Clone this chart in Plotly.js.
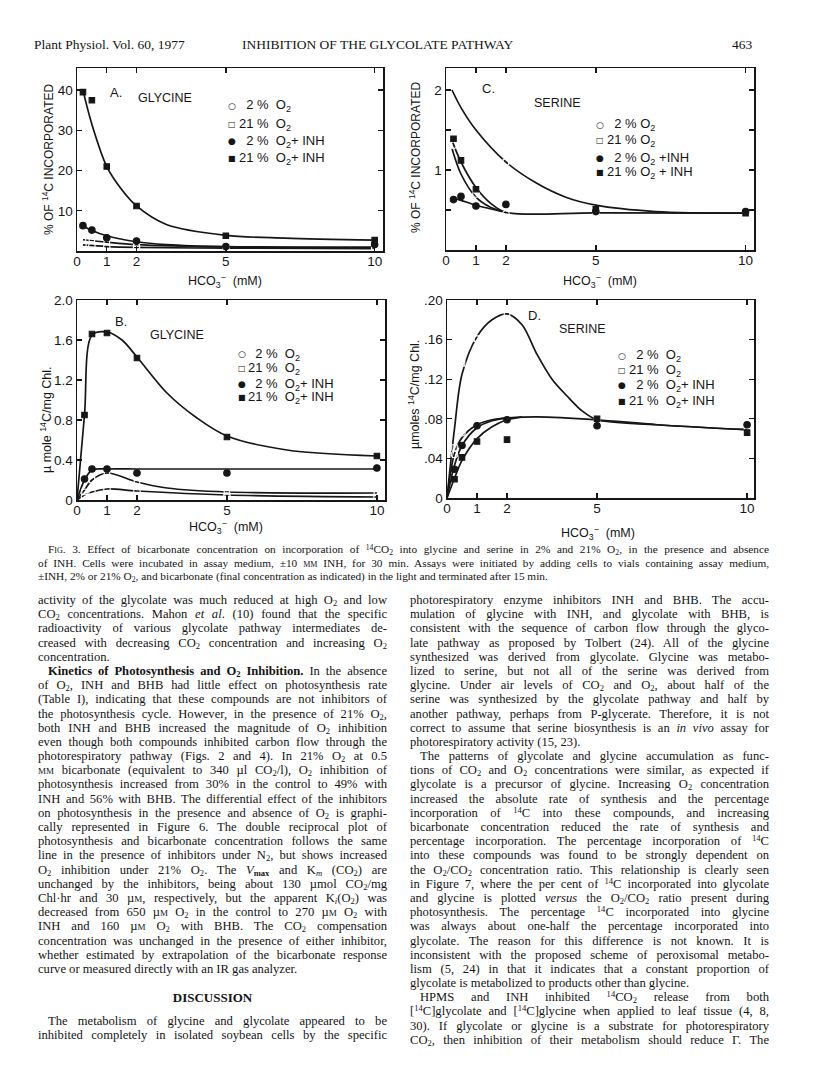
<!DOCTYPE html>
<html><head><meta charset="utf-8">
<script src="https://cdn.plot.ly/plotly-3.0.1.min.js"></script>
<style>
body{margin:0;background:#fff;}
#page{position:relative;width:816px;height:1088px;overflow:hidden;background:#fff;}
#plot{position:absolute;left:0;top:0;width:816px;height:1088px;}
.txt{position:absolute;font-family:'Liberation Serif','Times New Roman',serif;color:#141414;}
.col{font-size:12.6px;}
.ln{height:14.2px;line-height:14.2px;text-align:justify;text-align-last:justify;white-space:nowrap;}
.ln.last{text-align-last:left;}
.ln.ind{text-indent:10px;}
.cap{font-size:11.3px;}
.cap .ln{height:13.5px;line-height:13.5px;}
sub{font-size:0.68em;vertical-align:-0.28em;line-height:0;}
sup{font-size:0.68em;vertical-align:0.45em;line-height:0;}
.sc{font-variant:small-caps;}
</style>
</head><body>
<div id="page">
<div id="plot"></div>
<div class="txt" style="left:34px;top:37px;font-size:13.5px;">Plant Physiol. Vol. 60, 1977</div>
<div class="txt" style="left:242px;top:37px;font-size:13.5px;">INHIBITION OF THE GLYCOLATE PATHWAY</div>
<div class="txt" style="left:732px;top:37px;font-size:13.5px;">463</div>
<div class="txt cap" id="caption" style="left:38px;top:543px;width:731px;"></div>
<div class="txt col" id="left" style="left:38px;top:593px;width:349px;"></div>
<div class="txt col" id="right" style="left:410px;top:593px;width:359px;"></div>
<div class="txt" style="left:38px;top:990px;width:349px;text-align:center;font-weight:bold;font-size:13px;">DISCUSSION</div>
<div class="txt col" id="left2" style="left:38px;top:1014px;width:349px;"></div>
</div>
<script>
// ---------------- DATA ----------------
// Panel A: glycine, % of 14C incorporated
const A_x = [0.2, 0.5, 1, 2, 5, 10];
const A_o2_2 = [1.5, 1.2, 0.9, 1.1, 0.7, 0.7];
const A_o2_21 = [2.6, 3.0, 2.3, 1.8, 0.9, 1.0];
const A_o2_2_inh = [6.3, 5.2, 3.3, 2.5, 1.1, 1.6];
const A_o2_21_inh = [39.5, 37.5, 21.0, 11.2, 3.8, 2.7];
const A_curve21i_x = [0.2, 0.5, 1, 1.5, 2, 3, 5, 7, 10];
const A_curve21i_y = [40, 31.5, 21, 15.3, 11.2, 6.6, 3.9, 3.2, 2.7];
const A_curve2i_x = [0.2, 0.5, 1, 2, 3, 5, 10];
const A_curve2i_y = [6.3, 5.1, 3.8, 2.3, 1.6, 1.1, 1.0];
const A_curve21_x = [0.2, 1, 2, 5, 10];
const A_curve21_y = [2.8, 2.2, 1.6, 1.0, 0.8];
const A_curve2_x = [0.2, 1, 2, 5, 10];
const A_curve2_y = [1.5, 1.1, 0.9, 0.7, 0.6];

// Panel C: serine, % of 14C incorporated
const C_x = [0.25, 0.5, 1, 2, 5, 10];
const C_o2_2 = [1.31, 0.81, 0.70, 0.45, 0.45, 0.35];
const C_o2_21 = [1.61, 2.02, 1.30, 1.10, 0.375, 0.425];
const C_o2_2_inh = [0.63, 0.67, 0.55, 0.57, 0.48, 0.48];
const C_o2_21_inh = [1.39, 1.12, 0.76, null, 0.51, 0.46];
const C_curve21_x = [0.2, 0.5, 1, 2, 3, 4, 5, 7, 10];
const C_curve21_y = [2.0, 1.78, 1.5, 1.1, 0.84, 0.66, 0.56, 0.48, 0.46];
const C_curve21i_x = [0.2, 0.5, 1, 1.5, 2, 5, 10];
const C_curve21i_y = [1.37, 1.1, 0.78, 0.58, 0.47, 0.465, 0.46];
const C_curve2_x = [0.2, 0.5, 1, 1.5, 2];
const C_curve2_y = [1.27, 0.95, 0.66, 0.53, 0.47];
const C_curve2i_x = [0.2, 0.5, 1, 2];
const C_curve2i_y = [0.65, 0.62, 0.56, 0.47];

// Panel B: glycine, umole 14C / mg Chl
const B_x = [0.25, 0.5, 1, 2, 5, 10];
const B_o2_2 = [0.03, 0.08, 0.11, 0.09, 0.04, 0.02];
const B_o2_21 = [0.08, 0.20, 0.27, 0.17, 0.08, 0.08];
const B_o2_2_inh = [0.21, 0.31, 0.31, 0.27, 0.27, 0.32];
const B_o2_21_inh = [0.85, 1.66, 1.67, 1.42, 0.63, 0.44];
const B_curve21i_x = [0, 0.25, 0.5, 1, 1.5, 2, 3, 4, 5, 7, 10];
const B_curve21i_y = [0, 0.85, 1.65, 1.68, 1.6, 1.43, 1.07, 0.82, 0.64, 0.5, 0.44];
const B_curve2i_x = [0, 0.25, 0.5, 1, 2, 5, 10];
const B_curve2i_y = [0, 0.2, 0.3, 0.31, 0.31, 0.31, 0.31];
const B_curve21_x = [0, 0.25, 0.5, 1, 2, 3, 5, 10];
const B_curve21_y = [0, 0.1, 0.2, 0.27, 0.18, 0.12, 0.08, 0.07];
const B_curve2_x = [0, 0.25, 0.5, 1, 2, 5, 10];
const B_curve2_y = [0, 0.05, 0.08, 0.11, 0.09, 0.05, 0.03];

// Panel D: serine, umoles 14C / mg Chl
const D_x = [0.25, 0.5, 1, 2, 5, 10];
const D_o2_2 = [0.044, 0.066, 0.090, 0.085, 0.089, 0.090];
const D_o2_21 = [0.051, 0.136, 0.161, 0.186, 0.078, 0.068];
const D_o2_2_inh = [0.029, 0.053, 0.073, 0.079, 0.073, 0.074];
const D_o2_21_inh = [0.019, 0.041, 0.057, 0.059, 0.080, 0.066];
const D_curve21_x = [0, 0.25, 0.5, 1, 1.5, 2, 2.5, 3, 3.5, 4, 4.5, 5, 7, 10];
const D_curve21_y = [0, 0.07, 0.125, 0.163, 0.18, 0.186, 0.175, 0.145, 0.12, 0.103, 0.088, 0.079, 0.074, 0.069];
const D_curveTail_x = [2, 3, 5, 7, 10];
const D_curveTail_y = [0.081, 0.082, 0.079, 0.074, 0.069];
const D_curve2_x = [0, 0.25, 0.5, 1, 1.5, 2];
const D_curve2_y = [0, 0.045, 0.061, 0.074, 0.079, 0.081];
const D_curve2i_x = [0, 0.25, 0.5, 1, 1.5, 2];
const D_curve2i_y = [0, 0.033, 0.053, 0.071, 0.078, 0.081];
const D_curve21i_x = [0, 0.25, 0.5, 1, 1.5, 2, 2.5];
const D_curve21i_y = [0, 0.02, 0.038, 0.06, 0.072, 0.079, 0.082];

// tick labels
const xTicks = [0, 1, 2, 5, 10];
const xTickText = ['0', '1', '2', '5', '10'];
const A_yTicks = [10, 20, 30, 40];
const A_yTickText = ['10', '20', '30', '40'];
const C_yTicks = [0.5, 1, 1.5, 2];
const C_yTickText = ['', '1', '', '2'];
const B_yTicks = [0, 0.4, 0.8, 1.2, 1.6, 2.0];
const B_yTickText = ['0', '0.4', '0.8', '1.2', '1.6', '2.0'];
const D_yTicks = [0, 0.04, 0.08, 0.12, 0.16, 0.20];
const D_yTickText = ['0', '.04', '.08', '.12', '.16', '.20'];

// ---------------- FIGURE ----------------
const W = 816, H = 1088;
const px = v => v / W, py = v => 1 - v / H;
const INK = '#161616';
const SANS = 'Liberation Sans, Arial, sans-serif';

function pts(x, y, sym, size, xa, ya) {
  const open = sym.indexOf('open') >= 0;
  return {x: x, y: y, type: 'scatter', mode: 'markers', xaxis: xa, yaxis: ya, showlegend: false, cliponaxis: false,
    marker: {symbol: sym, size: size, color: open ? '#ffffff' : INK, line: {color: INK, width: 1.1}}};
}
function curve(x, y, xa, ya) {
  return {x: x, y: y, type: 'scatter', mode: 'lines', xaxis: xa, yaxis: ya, showlegend: false,
    line: {color: INK, width: 1.7, shape: 'spline', smoothing: 0.9}};
}
function series(xs, s2, s21, s2i, s21i, xa, ya) {
  return [
    pts(xs, s2, 'circle-open', 6.5, xa, ya),
    pts(xs, s21, 'square-open', 5.5, xa, ya),
    pts(xs, s2i, 'circle', 6.5, xa, ya),
    pts(xs, s21i, 'square', 5.5, xa, ya)
  ];
}

const traces = [
  curve(A_curve21i_x, A_curve21i_y, 'x', 'y'),
  curve(A_curve2i_x, A_curve2i_y, 'x', 'y'),
  curve(A_curve21_x, A_curve21_y, 'x', 'y'),
  curve(A_curve2_x, A_curve2_y, 'x', 'y'),
  ...series(A_x, A_o2_2, A_o2_21, A_o2_2_inh, A_o2_21_inh, 'x', 'y'),
  curve(C_curve21_x, C_curve21_y, 'x2', 'y2'),
  curve(C_curve21i_x, C_curve21i_y, 'x2', 'y2'),
  curve(C_curve2_x, C_curve2_y, 'x2', 'y2'),
  curve(C_curve2i_x, C_curve2i_y, 'x2', 'y2'),
  ...series(C_x, C_o2_2, C_o2_21, C_o2_2_inh, C_o2_21_inh, 'x2', 'y2'),
  curve(B_curve21i_x, B_curve21i_y, 'x3', 'y3'),
  curve(B_curve2i_x, B_curve2i_y, 'x3', 'y3'),
  curve(B_curve21_x, B_curve21_y, 'x3', 'y3'),
  curve(B_curve2_x, B_curve2_y, 'x3', 'y3'),
  ...series(B_x, B_o2_2, B_o2_21, B_o2_2_inh, B_o2_21_inh, 'x3', 'y3'),
  curve(D_curve21_x, D_curve21_y, 'x4', 'y4'),
  curve(D_curveTail_x, D_curveTail_y, 'x4', 'y4'),
  curve(D_curve2_x, D_curve2_y, 'x4', 'y4'),
  curve(D_curve2i_x, D_curve2i_y, 'x4', 'y4'),
  curve(D_curve21i_x, D_curve21i_y, 'x4', 'y4'),
  ...series(D_x, D_o2_2, D_o2_21, D_o2_2_inh, D_o2_21_inh, 'x4', 'y4')
];

function axis(extra) {
  return Object.assign({
    showline: true, linecolor: INK, linewidth: 1.5, mirror: 'ticks',
    ticks: 'inside', ticklen: 5, tickwidth: 1.4, tickcolor: INK,
    showgrid: false, zeroline: false, fixedrange: true,
    tickfont: {family: SANS, size: 13.5, color: INK}, tickmode: 'array'
  }, extra);
}
const XL = {ticklabelstandoff: -3};

const layout = {
  width: W, height: H, margin: {l: 0, r: 0, t: 0, b: 0},
  paper_bgcolor: 'rgba(0,0,0,0)', plot_bgcolor: 'rgba(0,0,0,0)', showlegend: false,
  font: {family: SANS, color: INK},
  xaxis: axis(Object.assign({domain: [px(77), px(383)], range: [0, 10.28], anchor: 'y', tickvals: xTicks, ticktext: xTickText}, XL)),
  yaxis: axis({domain: [py(251), py(68)], range: [0, 45.5], anchor: 'x', tickvals: A_yTicks, ticktext: A_yTickText}),
  xaxis2: axis(Object.assign({domain: [px(446), px(754)], range: [0, 10.28], anchor: 'y2', tickvals: xTicks, ticktext: xTickText}, XL)),
  yaxis2: axis({domain: [py(250), py(68)], range: [0, 2.275], anchor: 'x2', tickvals: C_yTicks, ticktext: C_yTickText}),
  xaxis3: axis(Object.assign({domain: [px(77), px(385)], range: [0, 10.27], anchor: 'y3', tickvals: xTicks, ticktext: xTickText}, XL)),
  yaxis3: axis({domain: [py(500), py(300)], range: [0, 2.0], anchor: 'x3', tickvals: B_yTicks, ticktext: B_yTickText}),
  xaxis4: axis(Object.assign({domain: [px(447), px(754)], range: [0, 10.23], anchor: 'y4', tickvals: xTicks, ticktext: xTickText}, XL)),
  yaxis4: axis({domain: [py(498), py(300)], range: [0, 0.2], anchor: 'x4', tickvals: D_yTicks, ticktext: D_yTickText}),
  annotations: []
};

function note(text, x, y, size, opts) {
  layout.annotations.push(Object.assign({
    text: text, xref: 'paper', yref: 'paper', x: px(x), y: py(y), showarrow: false,
    xanchor: 'center', yanchor: 'middle', font: {family: SANS, size: size, color: INK}
  }, opts || {}));
}
const FS = '\u2007';
// panel labels
note('A.', 116, 92, 13); note('GLYCINE', 165, 98, 12.5);
note('C.', 488, 88, 13); note('SERINE', 557, 103, 12.5);
note('B.', 121, 321, 13); note('GLYCINE', 177, 335, 12.5);
note('D.', 534, 315, 13); note('SERINE', 582, 329, 12.5);
// axis titles
const xTitle = 'HCO<sub>3</sub><sup>\u2212</sup>  (mM)';
note(xTitle, 225, 281, 12.5); note(xTitle, 600, 281, 12.5);
note(xTitle, 226, 527, 12.5); note(xTitle, 598, 533, 12.5);
note('% OF <sup>14</sup>C INCORPORATED', 48, 160, 12, {textangle: -90});
note('% OF <sup>14</sup>C INCORPORATED', 415, 158, 12, {textangle: -90});
note('\u00b5 mole <sup>14</sup>C/mg Chl.', 46, 420, 12.5, {textangle: -90});
note('\u00b5moles <sup>14</sup>C/mg Chl.', 414, 395, 12.5, {textangle: -90});
// in-panel keys
const SYM = ['\u25cb', '\u25a1', '\u25cf', '\u25a0'];
const SYMSZ = [9, 8, 9, 8];
function key(labels, sx, tx, ys) {
  for (let i = 0; i < 4; i++) {
    note(SYM[i], sx, ys[i], SYMSZ[i], {font: {family: 'DejaVu Sans', size: SYMSZ[i], color: INK}});
    note(labels[i], tx, ys[i], 13, {xanchor: 'left'});
  }
}
key([FS + '2 %  O<sub>2</sub>', '21 %  O<sub>2</sub>', FS + '2 %  O<sub>2</sub>+ INH', '21 %  O<sub>2</sub>+ INH'], 232, 237, [106, 124, 141, 158]);
key([FS + '2 % O<sub>2</sub>', '21 % O<sub>2</sub>', FS + '2 % O<sub>2</sub> +INH', '21 % O<sub>2</sub> + INH'], 600, 605, [125, 140, 158, 172]);
key([FS + '2 %  O<sub>2</sub>', '21 %  O<sub>2</sub>', FS + '2 %  O<sub>2</sub>+ INH', '21 %  O<sub>2</sub>+ INH'], 242, 246, [354, 369, 384, 398]);
key([FS + '2 %  O<sub>2</sub>', '21 %  O<sub>2</sub>', FS + '2 %  O<sub>2</sub>+ INH', '21 %  O<sub>2</sub>+ INH'], 622, 627, [356, 370, 385, 401]);

Plotly.newPlot('plot', traces, layout, {staticPlot: true});

// ---------------- TEXT ----------------
const O2 = 'O<sub>2</sub>', CO2 = 'CO<sub>2</sub>', mM = '<span class="sc">mm</span>', uM = '\u00b5<span class="sc">m</span>';
const captionLines = [
  ['<span class="sc">Fig.</span> 3. Effect of bicarbonate concentration on incorporation of <sup>14</sup>' + CO2 + ' into glycine and serine in 2% and 21% ' + O2 + ', in the presence and absence', 'ind'],
  ['of INH. Cells were incubated in assay medium, \u00b110 ' + mM + ' INH, for 30 min. Assays were initiated by adding cells to vials containing assay medium,', ''],
  ['\u00b1INH, 2% or 21% ' + O2 + ', and bicarbonate (final concentration as indicated) in the light and terminated after 15 min.', 'last']
];
const leftLines = [
  ['activity of the glycolate was much reduced at high ' + O2 + ' and low', ''],
  [CO2 + ' concentrations. Mahon <i>et al</i>. (10) found that the specific', ''],
  ['radioactivity of various glycolate pathway intermediates de-', ''],
  ['creased with decreasing ' + CO2 + ' concentration and increasing ' + O2, ''],
  ['concentration.', 'last'],
  ['<b>Kinetics of Photosynthesis and ' + O2 + ' Inhibition.</b> In the absence', 'ind'],
  ['of ' + O2 + ', INH and BHB had little effect on photosynthesis rate', ''],
  ['(Table I), indicating that these compounds are not inhibitors of', ''],
  ['the photosynthesis cycle. However, in the presence of 21% ' + O2 + ',', ''],
  ['both INH and BHB increased the magnitude of ' + O2 + ' inhibition', ''],
  ['even though both compounds inhibited carbon flow through the', ''],
  ['photorespiratory pathway (Figs. 2 and 4). In 21% ' + O2 + ' at 0.5', ''],
  [mM + ' bicarbonate (equivalent to 340 \u00b5l ' + CO2 + '/l), ' + O2 + ' inhibition of', ''],
  ['photosynthesis increased from 30% in the control to 49% with', ''],
  ['INH and 56% with BHB. The differential effect of the inhibitors', ''],
  ['on photosynthesis in the presence and absence of ' + O2 + ' is graphi-', ''],
  ['cally represented in Figure 6. The double reciprocal plot of', ''],
  ['photosynthesis and bicarbonate concentration follows the same', ''],
  ['line in the presence of inhibitors under N<sub>2</sub>, but shows increased', ''],
  [O2 + ' inhibition under 21% ' + O2 + '. The <i>V</i><sub><b>max</b></sub> and K<sub><i>m</i></sub> (' + CO2 + ') are', ''],
  ['unchanged by the inhibitors, being about 130 \u00b5mol ' + CO2 + '/mg', ''],
  ['Chl\u00b7hr and 30 ' + uM + ', respectively, but the apparent K<sub><i>i</i></sub>(' + O2 + ') was', ''],
  ['decreased from 650 ' + uM + ' ' + O2 + ' in the control to 270 ' + uM + ' ' + O2 + ' with', ''],
  ['INH and 160 ' + uM + ' ' + O2 + ' with BHB. The ' + CO2 + ' compensation', ''],
  ['concentration was unchanged in the presence of either inhibitor,', ''],
  ['whether estimated by extrapolation of the bicarbonate response', ''],
  ['curve or measured directly with an IR gas analyzer.', 'last']
];
const left2Lines = [
  ['The metabolism of glycine and glycolate appeared to be', 'ind'],
  ['inhibited completely in isolated soybean cells by the specific', '']
];
const rightLines = [
  ['photorespiratory enzyme inhibitors INH and BHB. The accu-', ''],
  ['mulation of glycine with INH, and glycolate with BHB, is', ''],
  ['consistent with the sequence of carbon flow through the glyco-', ''],
  ['late pathway as proposed by Tolbert (24). All of the glycine', ''],
  ['synthesized was derived from glycolate. Glycine was metabo-', ''],
  ['lized to serine, but not all of the serine was derived from', ''],
  ['glycine. Under air levels of ' + CO2 + ' and ' + O2 + ', about half of the', ''],
  ['serine was synthesized by the glycolate pathway and half by', ''],
  ['another pathway, perhaps from P-glycerate. Therefore, it is not', ''],
  ['correct to assume that serine biosynthesis is an <i>in vivo</i> assay for', ''],
  ['photorespiratory activity (15, 23).', 'last'],
  ['The patterns of glycolate and glycine accumulation as func-', 'ind'],
  ['tions of ' + CO2 + ' and ' + O2 + ' concentrations were similar, as expected if', ''],
  ['glycolate is a precursor of glycine. Increasing ' + O2 + ' concentration', ''],
  ['increased the absolute rate of synthesis and the percentage', ''],
  ['incorporation of <sup>14</sup>C into these compounds, and increasing', ''],
  ['bicarbonate concentration reduced the rate of synthesis and', ''],
  ['percentage incorporation. The percentage incorporation of <sup>14</sup>C', ''],
  ['into these compounds was found to be strongly dependent on', ''],
  ['the ' + O2 + '/' + CO2 + ' concentration ratio. This relationship is clearly seen', ''],
  ['in Figure 7, where the per cent of <sup>14</sup>C incorporated into glycolate', ''],
  ['and glycine is plotted <i>versus</i> the ' + O2 + '/' + CO2 + ' ratio present during', ''],
  ['photosynthesis. The percentage <sup>14</sup>C incorporated into glycine', ''],
  ['was always about one-half the percentage incorporated into', ''],
  ['glycolate. The reason for this difference is not known. It is', ''],
  ['inconsistent with the proposed scheme of peroxisomal metabo-', ''],
  ['lism (5, 24) in that it indicates that a constant proportion of', ''],
  ['glycolate is metabolized to products other than glycine.', 'last'],
  ['HPMS and INH inhibited <sup>14</sup>' + CO2 + ' release from both', 'ind'],
  ['[<sup>14</sup>C]glycolate and [<sup>14</sup>C]glycine when applied to leaf tissue (4, 8,', ''],
  ['30). If glycolate or glycine is a substrate for photorespiratory', ''],
  [CO2 + ', then inhibition of their metabolism should reduce \u0393. The', '']
];
function fill(id, lines) {
  const el = document.getElementById(id);
  lines.forEach(l => {
    const d = document.createElement('div');
    d.className = 'ln' + (l[1] ? ' ' + l[1] : '');
    d.innerHTML = l[0];
    el.appendChild(d);
  });
  el.querySelectorAll('.ln').forEach(d => {
    let fs = parseFloat(getComputedStyle(d).fontSize);
    let guard = 0;
    while (d.scrollWidth > d.clientWidth + 0.5 && guard < 30) { fs -= 0.1; d.style.fontSize = fs + 'px'; guard++; }
  });
}
fill('caption', captionLines);
fill('left', leftLines);
fill('left2', left2Lines);
fill('right', rightLines);
</script>
</body></html>
